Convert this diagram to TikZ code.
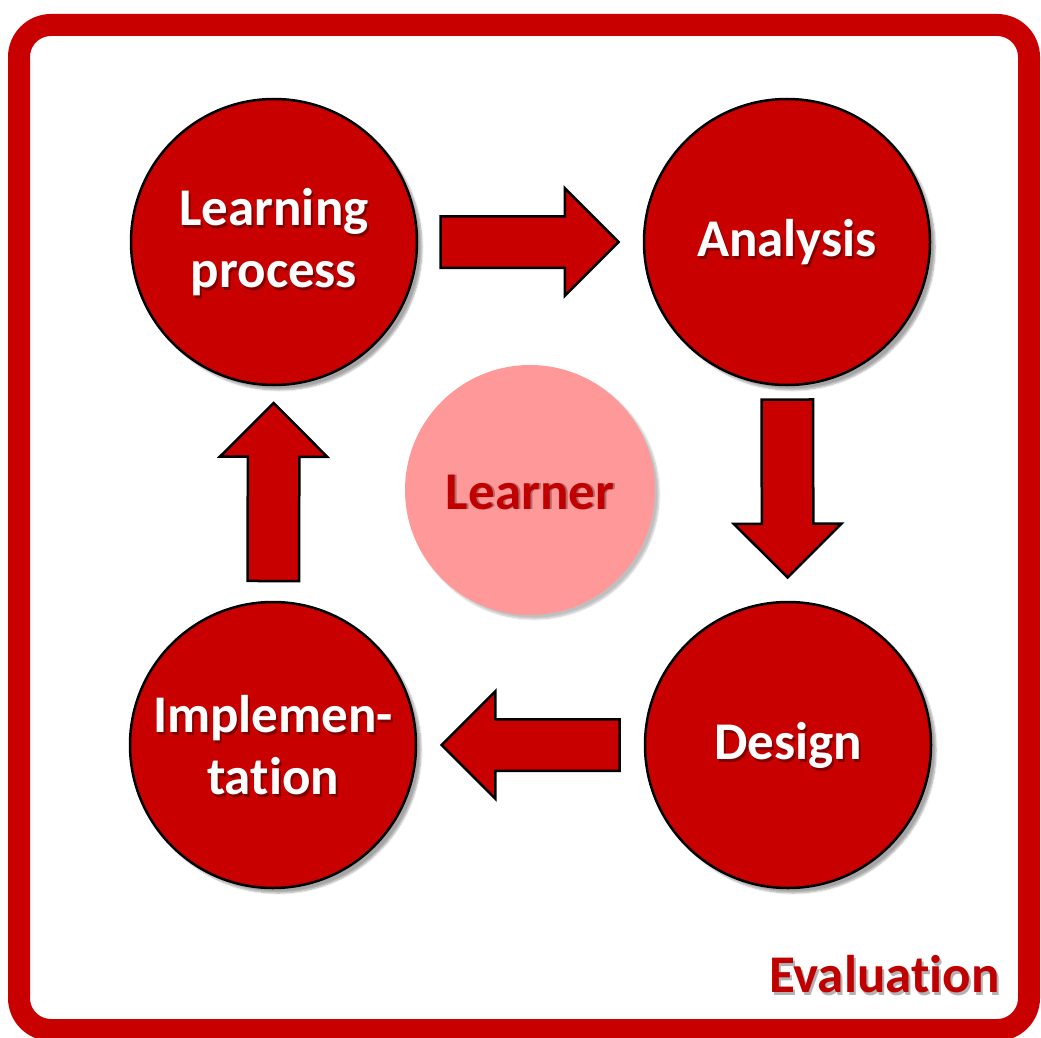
\documentclass[tikz,border=0pt]{standalone}
\usepackage{fontspec}
\setmainfont{Carlito}[Ligatures=NoCommon]
\usetikzlibrary{shapes.arrows,shadows.blur}
\definecolor{mainred}{RGB}{200,0,0}
\definecolor{learnerpink}{RGB}{255,153,153}
\definecolor{darkred}{RGB}{192,0,0}
\tikzset{
  bigfont/.style={font=\bfseries\fontsize{53}{62}\selectfont},
  phasecircle/.style={circle, draw=black, line width=2.5pt, fill=mainred, minimum size=286pt, inner sep=0pt,
    blur shadow={shadow xshift=5pt, shadow yshift=-5pt, shadow blur steps=6, shadow opacity=35}},
  phasetext/.style={bigfont, text=white, align=center},
  textshade/.style={bigfont, text=black, opacity=0.35, align=center},
  blockarrow/.style={single arrow, draw=black, line width=2.5pt, fill=mainred, inner sep=0pt,
    minimum height=178pt, single arrow head extend=28pt, single arrow tip angle=90,
    sloped, allow upside down, anchor=tip, pos=0.9},
}
% one phase of the cycle: name, position, text
\newcommand{\phase}[3]{%
  \node[phasecircle] (#1) at #2 {};
  \node[textshade] at ([shift={(2pt,-3pt)}]#1.center) {#3};
  \node[phasetext] at (#1.center) {#3};
}
\begin{document}
\begin{tikzpicture}[x=1pt,y=-1pt]
\useasboundingbox (0,0) rectangle (1041,1038);
% frame
\draw[line width=22pt, draw=mainred, rounded corners=32pt] (19,25) rectangle (1029,1030);
% phases
\phase{lp}{(274,242)}{Learning\\process}
\phase{an}{(787,242)}{Analysis}
\phase{de}{(788,745)}{Design}
\phase{im}{(273,745)}{Implemen-\\tation}
% learner
\node[circle, fill=learnerpink, minimum size=250pt, inner sep=0pt,
  blur shadow={shadow xshift=4pt, shadow yshift=-4pt, shadow blur steps=6, shadow opacity=25}] (le) at (530,490) {};
\node[textshade, opacity=0.3] at ([shift={(2pt,-3pt)}]le.center) {Learner};
\node[bigfont, text=darkred] (lt) at ([yshift=-3pt]le.center) {Learner};
% arrows
\path (lp) -- (an) node[blockarrow] (a1) {\rule{0pt}{49pt}};
\path (an) -- (de) node[blockarrow] (a2) {\rule{0pt}{49pt}};
\path (de) -- (im) node[blockarrow] (a3) {\rule{0pt}{49pt}};
\path (im) -- (lp) node[blockarrow, pos=0.93] (a4) {\rule{0pt}{49pt}};
% evaluation
\node[textshade, opacity=0.3, anchor=base east] at (1005,995) {Evaluation};
\node[bigfont, text=darkred, anchor=base east] (ev) at (1003,992) {Evaluation};
\end{tikzpicture}
\end{document}
